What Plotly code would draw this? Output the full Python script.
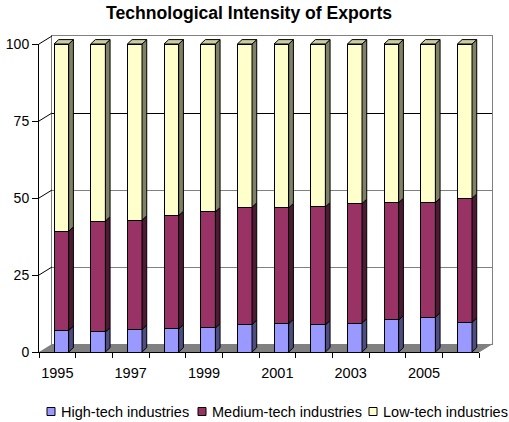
import plotly.graph_objects as go

# ---- data (percent shares) ----
years = [1995, 1996, 1997, 1998, 1999, 2000, 2001, 2002, 2003, 2004, 2005, 2006]
high_tech = [7.0, 6.5, 7.3, 7.5, 7.8, 8.9, 9.2, 8.8, 9.4, 10.4, 11.3, 9.6]
medium_tech = [32.2, 36.0, 35.5, 36.8, 37.7, 38.1, 37.6, 38.3, 38.8, 38.1, 37.2, 40.3]
low_tech = [60.8, 57.5, 57.2, 55.7, 54.5, 53.0, 53.2, 52.9, 51.8, 51.5, 51.5, 50.1]
series_names = ["High-tech industries", "Medium-tech industries", "Low-tech industries"]
label_years = [1995, 1997, 1999, 2001, 2003, 2005]
y_ticks = [0, 25, 50, 75, 100]

# ---- styling ----
W, H = 509, 422
FONT = "Liberation Sans, Arial, sans-serif"
front_cols = ["#9999FF", "#993366", "#FFFFCC"]
side_cols = ["#4D4D80", "#4D1A33", "#808066"]
top_col = "#CCCCA3"

# pixel geometry of the front plane
X0, X1 = 39.0, 479.0
Y0, Y100 = 352.0, 44.0
DX, DY = 13.0, 8.0          # depth of the back wall
n = len(years)
C = (X1 - X0) / n            # px per category
K = (Y0 - Y100) / 100.0      # px per percent

def fx(px):
    return px / W

def fy(py):
    return 1 - py / H

BAR_W = 0.40
BAR_SHIFT = 0.11
SIDE_DX = 4.7 / C
SIDE_DY = 4.4 / K

fig = go.Figure()

# empty traces so that the frame subplots get drawn
for xa, ya in [("x", "y"), ("x", "y5"), ("x2", "y2"), ("x4", "y2")]:
    fig.add_trace(go.Scatter(x=[None], y=[None], xaxis=xa, yaxis=ya,
                             mode="markers", hoverinfo="skip", showlegend=False))

# ---- bars (front faces) ----
xs = [i + BAR_SHIFT for i in range(n)]
all_series = [high_tech, medium_tech, low_tech]
for name, vals, col in zip(series_names, all_series, front_cols):
    fig.add_trace(go.Bar(
        x=xs, y=vals, name=name, width=BAR_W,
        marker=dict(color=col, line=dict(color="black", width=1)),
        xaxis="x3", yaxis="y3", showlegend=False,
    ))

# ---- side faces and top faces (3-D effect), computed from the data ----
base = [0.0] * n
for k, (vals, scol) in enumerate(zip(all_series, side_cols)):
    px_, py_ = [], []
    for i in range(n):
        xr = xs[i] + BAR_W / 2
        b0, b1 = base[i], base[i] + vals[i]
        px_ += [xr, xr, xr + SIDE_DX, xr + SIDE_DX, xr, None]
        py_ += [b0, b1, b1 + SIDE_DY, b0 + SIDE_DY, b0, None]
    fig.add_trace(go.Scatter(
        x=px_, y=py_, mode="lines", fill="toself", fillcolor=scol,
        line=dict(color="black", width=1), xaxis="x3", yaxis="y3",
        hoverinfo="skip", showlegend=False,
    ))
    base = [b + v for b, v in zip(base, vals)]

tx, ty = [], []
for i in range(n):
    xl, xr = xs[i] - BAR_W / 2, xs[i] + BAR_W / 2
    t = base[i]
    tx += [xl, xr, xr + SIDE_DX, xl + SIDE_DX, xl, None]
    ty += [t, t, t + SIDE_DY, t + SIDE_DY, t, None]
fig.add_trace(go.Scatter(
    x=tx, y=ty, mode="lines", fill="toself", fillcolor=top_col,
    line=dict(color="black", width=1), xaxis="x3", yaxis="y3",
    hoverinfo="skip", showlegend=False,
))

# ---- axes ----
common = dict(automargin=False, fixedrange=True, zeroline=False)
hidden = dict(visible=False, **common)
layout = dict(
    width=W, height=H,
    margin=dict(l=0, r=0, t=0, b=0, pad=0, autoexpand=False),
    paper_bgcolor="white", plot_bgcolor="rgba(0,0,0,0)",
    barmode="stack",
    font=dict(family=FONT, size=14, color="black"),
    # back wall
    xaxis=dict(domain=[fx(X0 + DX), fx(X1 + DX)], range=[0, 1], anchor="y",
               showgrid=False, showticklabels=False, ticks="",
               showline=True, mirror=True, linecolor="#808080", linewidth=1,
               **common),
    yaxis=dict(domain=[fy(Y0 - DY), fy(Y100 - DY)], range=[0, 100], anchor="x",
               tickvals=[25, 50], showgrid=True, gridcolor="#808080", gridwidth=1,
               showticklabels=False, ticks="",
               showline=True, mirror=True, linecolor="#808080", linewidth=1,
               **common),
    yaxis5=dict(overlaying="y", anchor="x", range=[0, 100], tickvals=[75],
                showgrid=True, gridcolor="black", gridwidth=1,
                showticklabels=False, ticks="", showline=False, **common),
    # front axes
    xaxis2=dict(domain=[fx(X0), fx(X1)], range=[-0.5, n - 0.5], anchor="y2",
                tickvals=[i - 0.5 for i in range(n + 1)], ticktext=[""] * (n + 1),
                ticks="outside", ticklen=5, tickcolor="black",
                showgrid=False,
                showline=True, linecolor="black", linewidth=1, **common),
    xaxis4=dict(overlaying="x2", anchor="y2", range=[-0.5, n - 0.5],
                tickvals=[years.index(y) for y in label_years],
                ticktext=[str(y) for y in label_years],
                ticks="", showgrid=False, showline=False,
                ticklabelstandoff=10, tickfont=dict(size=14.5), **common),
    yaxis2=dict(domain=[fy(Y0), fy(Y100)], range=[0, 100], anchor="x2",
                tickvals=y_ticks, ticks="outside", ticklen=6, tickcolor="black",
                showgrid=False, tickfont=dict(size=14),
                showline=True, linecolor="black", linewidth=1, **common),
    # bars (full-page axes with the same scale as the front plane)
    xaxis3=dict(domain=[0, 1], anchor="y3",
                range=[(0 - X0) / C - 0.5, (W - X0) / C - 0.5], **hidden),
    yaxis3=dict(domain=[0, 1], anchor="x3",
                range=[(Y0 - H) / K, Y0 / K], **hidden),
    showlegend=False,
)
fig.update_layout(**layout)

# ---- 3-D frame: floor and left-wall tick connectors ----
shapes = []
shapes.append(dict(
    type="path", xref="paper", yref="paper", layer="below",
    path=(f"M {fx(X0)},{fy(Y0)} L {fx(X1)},{fy(Y0)} L {fx(X1 + DX)},{fy(Y0 - DY)} "
          f"L {fx(X0 + DX)},{fy(Y0 - DY)} Z"),
    fillcolor="#808080", line=dict(width=0),
))
for v in y_ticks[1:]:
    py = Y0 - v * K
    shapes.append(dict(type="line", xref="paper", yref="paper",
                       x0=fx(X0), y0=fy(py), x1=fx(X0 + DX), y1=fy(py - DY),
                       line=dict(color="black", width=1)))
shapes.append(dict(type="line", xref="paper", yref="paper",
                   x0=fx(X1), y0=fy(Y0), x1=fx(X1 + DX), y1=fy(Y0 - DY),
                   line=dict(color="#808080", width=1)))

# ---- legend (drawn manually to match the compact spacing) ----
leg_y = 411.5
leg_box_x = [47, 198, 369]
annotations = []
for name, col, bx in zip(series_names, front_cols, leg_box_x):
    shapes.append(dict(type="rect", xref="paper", yref="paper",
                       x0=fx(bx), x1=fx(bx + 8), y0=fy(leg_y + 4), y1=fy(leg_y - 4),
                       fillcolor=col, line=dict(color="black", width=1)))
    annotations.append(dict(text=name, xref="paper", yref="paper",
                            x=fx(bx + 12), y=fy(leg_y), xanchor="left", yanchor="middle",
                            showarrow=False, font=dict(size=14.5)))

annotations.append(dict(text="<b>Technological Intensity of Exports</b>",
                        xref="paper", yref="paper", x=fx(249), y=fy(12.5),
                        xanchor="center", yanchor="middle", showarrow=False,
                        font=dict(size=17.6)))
fig.update_layout(shapes=shapes, annotations=annotations)

fig.write_html("out.html")
